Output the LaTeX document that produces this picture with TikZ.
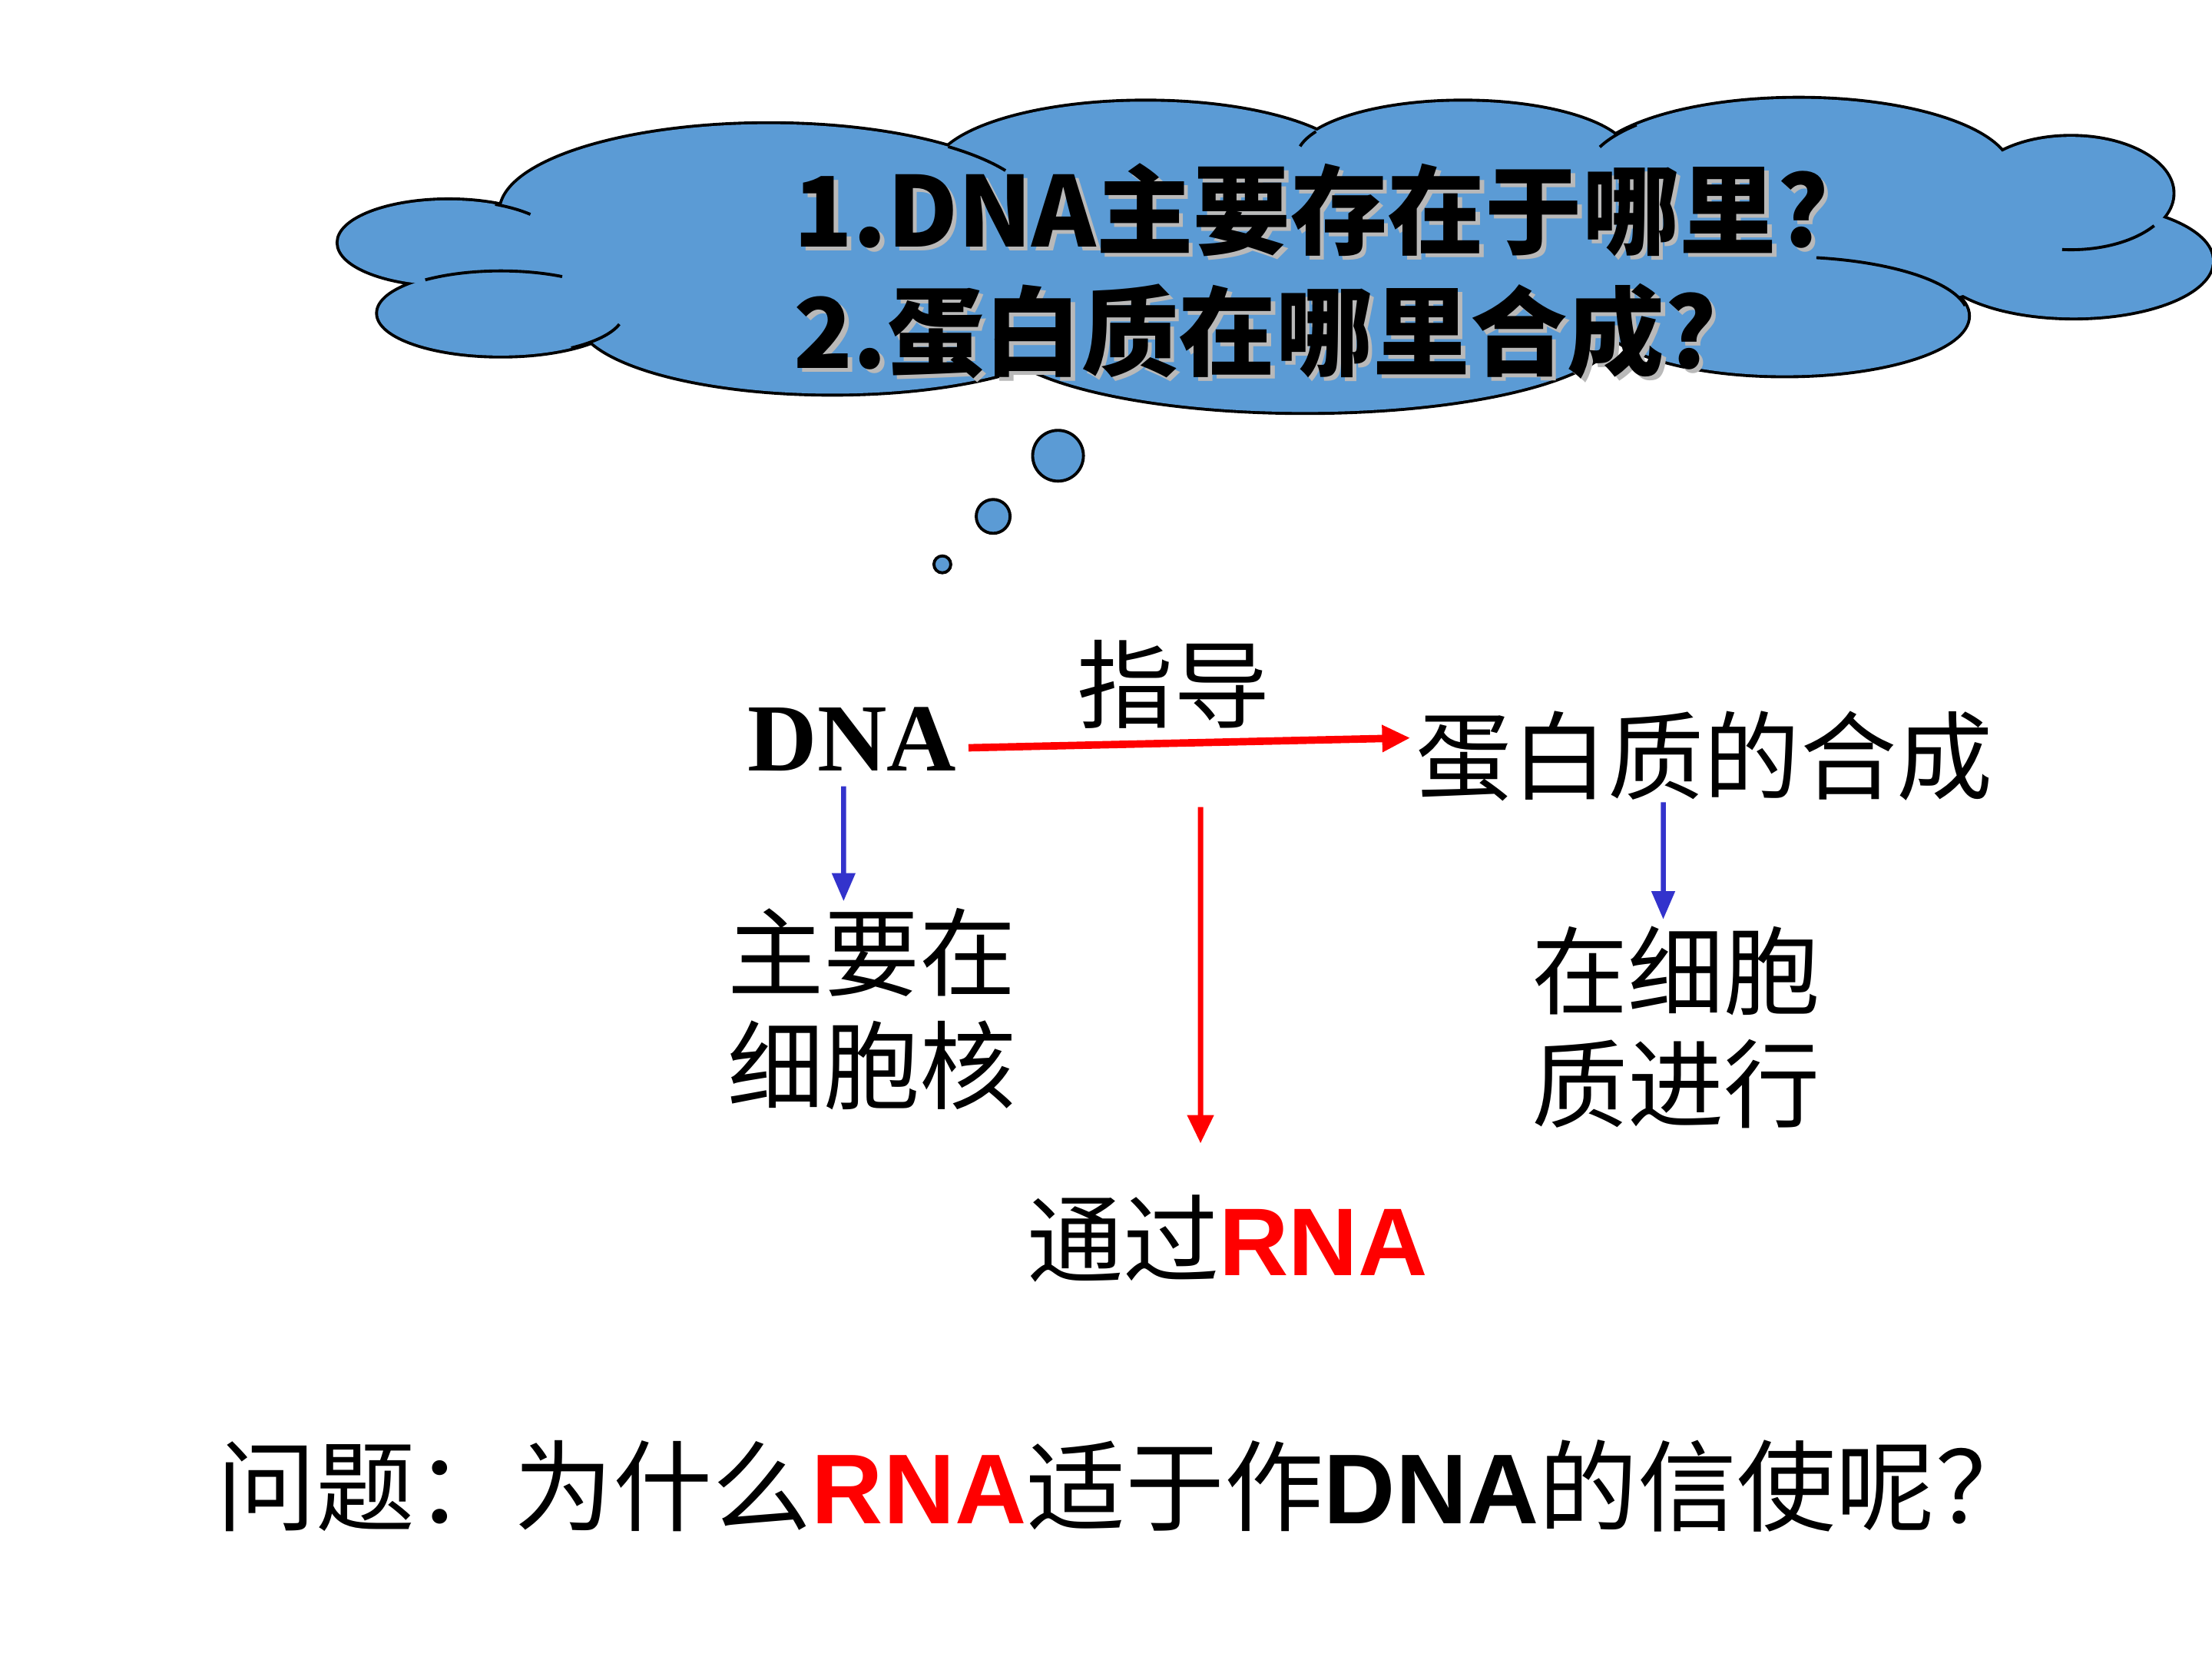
\documentclass[tikz,border=0pt]{standalone}
\usepackage{fontspec}
\setmainfont{Liberation Serif}
\newfontfamily\cjk{Noto Sans CJK SC}
\newfontfamily\arial{Liberation Sans}
\usepackage{tikz}
\usetikzlibrary{arrows.meta}
\definecolor{cloudblue}{RGB}{91,155,213}
\definecolor{arrowblue}{RGB}{51,51,204}
\tikzstyle{puff}=[fill=cloudblue, draw=black, line width=1.2pt]
\tikzstyle{lbl}=[font=\cjk\fontsize{19.4pt}{22.8pt}\selectfont, inner sep=0pt, align=center]
\tikzstyle{ask}=[font=\cjk\bfseries\fontsize{19.6pt}{23pt}\selectfont, inner sep=0pt, anchor=base west]
\tikzstyle{redarrow}=[draw=red, line width=1.5pt, -{Triangle[length=2mm,width=1.8mm]}]
\tikzstyle{bluearrow}=[draw=arrowblue, line width=1pt, -{Triangle[length=2mm,width=1.6mm]}]
\begin{document}
\begin{tikzpicture}[x=0.1mm, y=-0.1mm]
\useasboundingbox (0,0) rectangle (1568,1176);
\foreach \cx/\cy/\rx/\ry in {318/172/78/30, 355/222/87/30, 545/150/190/62, 812/122/150/50, 1037/112/118/40, 1275/122/150/52, 1468/137/72/40, 1470/185/98/40, 1265/224/130/42, 925/235/220/57, 590/225/180/54}
  \draw[puff] (\cx,\cy) ellipse [x radius=\rx, y radius=\ry];
\foreach \cx/\cy/\rx/\ry in {318/172/78/30, 355/222/87/30, 545/150/190/62, 812/122/150/50, 1037/112/118/40, 1275/122/150/52, 1468/137/72/40, 1470/185/98/40, 1265/224/130/42, 925/235/220/57, 590/225/180/54, 900/180/540/70, 1410/152/30/15}
  \fill[cloudblue] (\cx,\cy) ellipse [x radius=\rx, y radius=\ry];
\foreach \cx/\cy/\rx/\ry/\a/\b in {318/172/78/30/295/318, 355/222/87/30/232/300, 355/222/87/30/55/15, 545/150/190/62/312/332, 1037/112/118/40/208/192, 925/235/220/57/155/175, 1275/122/150/52/220/200, 1468/137/72/40/95/35, 1265/224/130/42/280/350}
  \draw[line width=0.6pt] (\cx,\cy) ++({\rx*cos(\a)},{\ry*sin(\a)}) arc[start angle=\a, end angle=\b, x radius=\rx, y radius=\ry];
\foreach \cx/\cy/\r in {750/323/18, 704/366/12, 668/400/6}
  \draw[fill=cloudblue, line width=0.6pt] (\cx,\cy) circle [radius=\r];
\node[ask, text=gray!55] (q1s) at (565,178) {1.DNA主要存在于哪里?};
\node[ask] (q1) at (562,175) {1.DNA主要存在于哪里?};
\node[ask, text=gray!55] (q2s) at (565,264) {2.蛋白质在哪里合成?};
\node[ask] (q2) at (562,261) {2.蛋白质在哪里合成?};

\node[font=\bfseries\fontsize{19.4pt}{23pt}\selectfont, inner sep=0pt] (dna) at (604,524) {DNA};
\node[lbl] (guide) at (832,485) {指导};
\node[lbl] (protein) at (1208,536) {蛋白质的合成};
\node[lbl] (nucleus) at (618,715) {主要在\\细胞核};
\node[lbl] (cyto) at (1188,728) {在细胞\\质进行};
\node[lbl] (via) at (870,878) {通过{\arial\bfseries\color{red}RNA}};
\node[lbl, font=\cjk\fontsize{20pt}{24pt}\selectfont] (question) at (798,1053) {问题：为什么{\arial\bfseries\color{red}RNA}适于作{\arial\bfseries DNA}的信使呢？};
\coordinate (mid) at (851,572);
\draw[redarrow] ([xshift=0.8mm,yshift=-0.6mm]dna.east) -- ([xshift=-0.3mm,yshift=1.3mm]protein.west);
\draw[redarrow, line width=1.1pt] (mid) -- ([xshift=-1.9mm,yshift=3.6mm]via.north);
\draw[bluearrow] ([xshift=-0.6mm,yshift=-1mm]dna.south) -- ([xshift=-2mm,yshift=0.4mm]nucleus.north);
\draw[bluearrow] ([xshift=-2.9mm]protein.south) -- ([xshift=-0.9mm,yshift=0.4mm]cyto.north);
\end{tikzpicture}
\end{document}
